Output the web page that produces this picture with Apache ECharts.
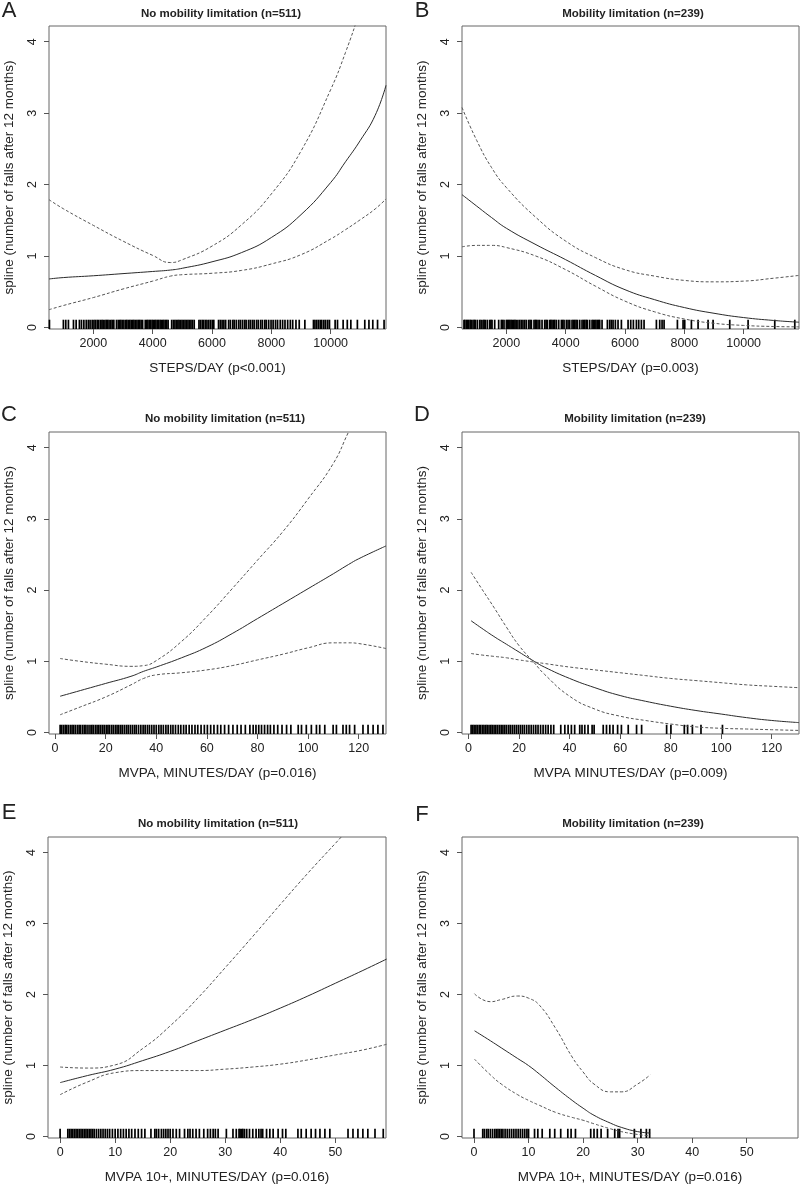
<!DOCTYPE html>
<html>
<head>
<meta charset="utf-8">
<title>Spline: falls after 12 months</title>
<script src="https://cdn.jsdelivr.net/npm/echarts@6/dist/echarts.min.js"></script>
<style>
html,body{margin:0;padding:0;background:#fff;}
#main{width:800px;height:1188px;}
</style>
</head>
<body>
<div id="main"></div>
<script>
// ---------------- data ----------------
var yTicks = [0, 1, 2, 3, 4];
var stepTicks = [2000, 4000, 6000, 8000, 10000];
var mvpaTicks = [0, 20, 40, 60, 80, 100, 120];
var mvpa10Ticks = [0, 10, 20, 30, 40, 50];

var titleNo = 'No mobility limitation (n=511)';
var titleLim = 'Mobility limitation (n=239)';
var yName = 'spline (number of falls after 12 months)';

// A: steps/day, no limitation
var aX   = [505, 1000, 2000, 3000, 4000, 4600, 5000, 6000, 7000, 8000, 9000, 10000, 10500, 11000, 11500, 11865];
var aFit = [0.68, 0.70, 0.725, 0.755, 0.785, 0.805, 0.83, 0.92, 1.05, 1.26, 1.58, 2.03, 2.32, 2.62, 2.97, 3.39];
var aUp  = [1.79, 1.66, 1.43, 1.21, 1.01, 0.91, 0.95, 1.14, 1.44, 1.87, 2.47, 3.33, 3.85, 4.45, 5.10, 5.60];
var aLo  = [0.25, 0.31, 0.42, 0.54, 0.65, 0.72, 0.74, 0.76, 0.80, 0.89, 1.02, 1.24, 1.37, 1.51, 1.66, 1.80];
var rugA = [520, 990, 1070, 1160, 1330, 1420, 1530, 1600, 1680, 1760, 1830, 1890, 1960, 2020, 2070, 2130, 2180, 2240, 2290, 2330,
  2390, 2440, 2480, 2530, 2590, 2640, 2690, 2780, 2840, 2890, 2930, 2980, 3030, 3090, 3130, 3180, 3230, 3280, 3330, 3370,
  3420, 3470, 3520, 3560, 3610, 3660, 3750, 3800, 3840, 3890, 3930, 3980, 4020, 4070, 4110, 4160, 4200, 4250, 4290, 4340,
  4380, 4430, 4470, 4520, 4640, 4700, 4750, 4800, 4850, 4890, 4940, 4990, 5040, 5090, 5140, 5190, 5240, 5290, 5340, 5400,
  5560, 5610, 5670, 5720, 5780, 5830, 5890, 5950, 6010, 6060, 6220, 6280, 6340, 6400, 6460, 6560, 6620, 6700, 6750, 6820,
  6900, 6960, 7030, 7100, 7150, 7230, 7290, 7360, 7420, 7500, 7560, 7640, 7700, 7780, 7830, 7910, 7990, 8060, 8140, 8210,
  8300, 8380, 8460, 8550, 8640, 8720, 8830, 8940, 9130, 9420, 9470, 9530, 9590, 9650, 9700, 9770, 9830, 9900, 9960, 10150,
  10230, 10420, 10560, 10680, 10900, 11150, 11290, 11420, 11580, 11800];

// B: steps/day, mobility limitation
var bX   = [505, 1000, 1500, 2000, 3000, 4000, 5000, 6000, 7000, 8000, 9000, 10000, 11000, 11865];
var bFit = [1.86, 1.70, 1.54, 1.39, 1.16, 0.95, 0.73, 0.53, 0.39, 0.28, 0.20, 0.14, 0.10, 0.075];
var bUp  = [3.08, 2.62, 2.24, 1.96, 1.54, 1.21, 0.98, 0.81, 0.72, 0.66, 0.64, 0.65, 0.69, 0.73];
var bLo  = [1.13, 1.15, 1.15, 1.12, 1.00, 0.81, 0.58, 0.37, 0.22, 0.12, 0.06, 0.03, 0.015, 0.01];
var rugB = [572, 600, 651, 690, 730, 780, 820, 876, 920, 955, 1022, 1101, 1150, 1213, 1250, 1292, 1359, 1438, 1480, 1517,
  1607, 1741, 1831, 1870, 1921, 2000, 2040, 2080, 2120, 2160, 2200, 2250, 2290, 2330, 2390, 2450, 2506, 2560, 2618, 2674,
  2753, 2800, 2843, 2933, 2980, 3012, 3068, 3124, 3203, 3293, 3340, 3383, 3461, 3500, 3540, 3590, 3630, 3686, 3765, 3855,
  3900, 3945, 4023, 4080, 4136, 4214, 4260, 4304, 4350, 4394, 4473, 4551, 4600, 4641, 4690, 4731, 4810, 4889, 4930, 4978,
  5020, 5068, 5110, 5147, 5226, 5406, 5484, 5540, 5597, 5675, 5765, 5878, 6103, 6193, 6282, 6384, 6462, 6552, 6642, 7058,
  7170, 7249, 7317, 7766, 7957, 8013, 8238, 8463, 8800, 8969, 9531, 10149, 11048, 11723];

// C: MVPA minutes/day, no limitation
var cX   = [2, 10, 20, 30, 35, 40, 50, 60, 70, 80, 90, 100, 110, 116, 120, 130.8];
var cFit = [0.51, 0.59, 0.69, 0.79, 0.86, 0.92, 1.05, 1.20, 1.39, 1.60, 1.81, 2.02, 2.23, 2.36, 2.44, 2.62];
var cUp  = [1.04, 1.00, 0.96, 0.93, 0.94, 1.01, 1.28, 1.63, 2.02, 2.42, 2.82, 3.28, 3.78, 4.22, 4.50, 5.30];
var cLo  = [0.25, 0.36, 0.50, 0.67, 0.76, 0.81, 0.84, 0.88, 0.94, 1.02, 1.10, 1.19, 1.26, 1.26, 1.25, 1.18];
var rugC = [2, 2.6, 3.3, 4, 4.5, 5.2, 6, 6.7, 7.3, 8, 8.8, 9.5, 10.1, 10.9, 11.6, 12.2, 13, 13.8, 14.5, 15.1,
  15.9, 16.6, 17.3, 18, 18.7, 19.4, 20.2, 20.9, 21.5, 22.3, 23, 23.8, 24.5, 25.2, 26, 26.7, 27.5, 28.3, 29, 29.8,
  30.6, 31.4, 32.1, 33, 33.9, 34.8, 35.6, 36.5, 37.3, 38.2, 39.1, 40, 41, 41.9, 42.8, 43.8, 44.7, 45.7, 46.6, 47.6,
  48.7, 49.7, 50.8, 51.8, 53, 54.1, 55.3, 56.4, 57.7, 59, 60.2, 61.5, 62.8, 64.2, 65.5, 67, 68.6, 70.3, 72, 73.5,
  75.2, 77, 78.3, 79.4, 80.5, 81.6, 82.8, 84, 85.1, 86.5, 88, 89.7, 91.5, 93.2, 96.1, 97.4, 99.3, 101.3, 103.3, 104.6,
  106.6, 109.9, 111.2, 113.8, 115.1, 116.4, 118.4, 121.7, 123.7, 125.7, 127.6, 129.6];

// D: MVPA minutes/day, mobility limitation
var dX   = [1, 5, 10, 15, 20, 26, 30, 40, 50, 60, 70, 80, 90, 100, 110, 120, 130.8];
var dFit = [1.57, 1.47, 1.35, 1.24, 1.13, 1.00, 0.92, 0.76, 0.63, 0.52, 0.44, 0.37, 0.31, 0.26, 0.21, 0.17, 0.14];
var dUp  = [2.25, 2.03, 1.76, 1.48, 1.22, 0.98, 0.82, 0.51, 0.33, 0.23, 0.17, 0.12, 0.08, 0.06, 0.05, 0.04, 0.03];
var dLo  = [1.11, 1.09, 1.07, 1.05, 1.02, 0.99, 0.97, 0.92, 0.88, 0.84, 0.80, 0.76, 0.73, 0.70, 0.67, 0.65, 0.63];
var rugD = [1, 1.6, 2.2, 2.9, 3.5, 4.2, 4.8, 5.5, 6.1, 6.8, 7.4, 8.1, 8.8, 9.4, 10.1, 10.8, 11.5, 12.2, 12.9, 13.6,
  14.3, 15, 15.8, 16.5, 17.3, 18.1, 18.9, 19.7, 20.5, 21.3, 22.1, 23, 23.9, 24.8, 25.7, 26.6, 27.5, 28.5, 29.5, 30.5,
  31.5, 32.6, 33.7, 36.5, 38.1, 39.4, 40.7, 42.0, 44.0, 44.9, 46.0, 47.3, 48.9, 49.7, 53.3, 54.6, 55.9, 57.2, 59.0, 60.5,
  63.2, 66.5, 68.5, 78.4, 80.1, 85.4, 86.7, 88.6, 92.0, 100.5];

// E: MVPA 10+ minutes/day, no limitation
var eX   = [0, 5, 10, 15, 20, 25, 30, 35, 40, 45, 50, 55, 59.3];
var eFit = [0.76, 0.86, 0.95, 1.07, 1.20, 1.35, 1.50, 1.65, 1.81, 1.98, 2.16, 2.34, 2.50];
var eUp  = [0.98, 0.965, 1.01, 1.24, 1.56, 1.95, 2.38, 2.82, 3.27, 3.71, 4.13, 4.55, 4.90];
var eLo  = [0.59, 0.77, 0.90, 0.93, 0.93, 0.93, 0.95, 0.98, 1.02, 1.08, 1.15, 1.22, 1.30];
var rugE = [0, 1.4, 1.7, 2.0, 2.3, 2.6, 2.9, 3.2, 3.5, 3.8, 4.1, 4.4, 4.7, 5.0, 5.3, 5.6, 5.9, 6.2, 6.6, 7.0,
  7.4, 7.8, 8.2, 8.6, 9.0, 9.5, 10.0, 10.5, 11.0, 11.5, 12.0, 12.5, 13.0, 13.6, 14.2, 14.8, 15.4, 16.5, 17.2, 17.5,
  17.9, 18.4, 18.8, 19.2, 19.6, 20, 20.5, 21.1, 21.7, 22.6, 23.2, 23.6, 24.1, 24.7, 25.3, 26.1, 26.8, 27.3, 27.8, 28.2,
  28.7, 30.2, 31.4, 32, 32.5, 32.7, 33, 33.2, 33.5, 33.9, 34.4, 35, 35.6, 36.1, 36.5, 36.8, 37.5, 38.1, 38.7, 39.6,
  40.4, 41, 43.2, 43.8, 44.7, 45.6, 46.4, 47.2, 48.1, 49.0, 52.3, 53.2, 54.1, 55.0, 55.9, 57.2, 58.7];

// F: MVPA 10+ minutes/day, mobility limitation
var fX   = [0.1, 3, 5, 8, 10, 12, 15, 18, 20, 22, 25, 27, 30, 32.3];
var fFit = [1.49, 1.35, 1.25, 1.10, 1.00, 0.88, 0.69, 0.51, 0.40, 0.30, 0.19, 0.13, 0.07, 0.05];
var fUp  = [2.01, 1.90, 1.93, 1.98, 1.95, 1.85, 1.52, 1.12, 0.91, 0.74, 0.63, 0.63, 0.74, 0.87];
var fLo  = [1.09, 0.87, 0.74, 0.59, 0.51, 0.44, 0.34, 0.27, 0.23, 0.18, 0.11, 0.07, 0.03, 0.01];
var rugF = [0, 1.6, 1.9, 2.3, 2.6, 3.0, 3.4, 3.8, 4.1, 4.4, 4.7, 5.0, 5.3, 5.7, 6.1, 6.5, 6.9, 7.3, 7.7, 8.1,
  8.5, 8.9, 9.3, 9.7, 10.0, 11.1, 11.7, 12.5, 13.9, 14.8, 15.9, 17.2, 17.8, 18.6, 21.4, 22.0, 22.6, 23.3, 24.5, 25.8,
  26.4, 26.7, 29.4, 30.6, 31.6, 32.2];

// ---------------- layout & styling ----------------
var FONT = '"Liberation Sans", Arial, sans-serif';
var Y_MIN = -0.02, Y_MAX = 4.22, RUG_TOP = 0.11;

var panels = [
  {letter:'A', title:titleNo,  x:aX, fit:aFit, up:aUp, lo:aLo, rug:rugA, xMin:505,  xMax:11865, ticks:stepTicks,   xName:'STEPS/DAY (p<0.001)'},
  {letter:'B', title:titleLim, x:bX, fit:bFit, up:bUp, lo:bLo, rug:rugB, xMin:505,  xMax:11865, ticks:stepTicks,   xName:'STEPS/DAY (p=0.003)'},
  {letter:'C', title:titleNo,  x:cX, fit:cFit, up:cUp, lo:cLo, rug:rugC, xMin:-2.4, xMax:130.8, ticks:mvpaTicks,   xName:'MVPA, MINUTES/DAY (p=0.016)'},
  {letter:'D', title:titleLim, x:dX, fit:dFit, up:dUp, lo:dLo, rug:rugD, xMin:-2.6, xMax:130.8, ticks:mvpaTicks,   xName:'MVPA MINUTES/DAY (p=0.009)'},
  {letter:'E', title:titleNo,  x:eX, fit:eFit, up:eUp, lo:eLo, rug:rugE, xMin:-2.2, xMax:59.2,  ticks:mvpa10Ticks, xName:'MVPA 10+, MINUTES/DAY (p=0.016)'},
  {letter:'F', title:titleLim, x:fX, fit:fFit, up:fUp, lo:fLo, rug:rugF, xMin:-2.2, xMax:59.4,  ticks:mvpa10Ticks, xName:'MVPA 10+, MINUTES/DAY (p=0.016)'}
];

// plot boxes in px, plus where panel letter and title sit
var boxes = [
  {left:49,  top:26,  width:337, height:303, titleX:221, titleY:14,  letterY:11},
  {left:462, top:26,  width:337, height:303, titleX:633, titleY:14,  letterY:11},
  {left:49,  top:432, width:337, height:302, titleX:225, titleY:419, letterY:415},
  {left:462, top:432, width:337, height:302, titleX:635, titleY:419, letterY:415},
  {left:48,  top:837, width:338, height:301, titleX:218, titleY:824, letterY:813},
  {left:462, top:837, width:336, height:301, titleX:633, titleY:824, letterY:815}
];

function pairs(xs, ys){
  var out = [];
  for(var i=0;i<xs.length;i++) out.push([xs[i], ys[i]]);
  return out;
}

var grid = [], xAxis = [], yAxis = [], series = [], graphic = [];

panels.forEach(function(p, i){
  var b = boxes[i];
  grid.push({left:b.left, top:b.top, width:b.width, height:b.height,
    show:true, borderColor:'#666', borderWidth:1, backgroundColor:'transparent'});

  xAxis.push({
    type:'value', gridIndex:i, min:p.xMin, max:p.xMax,
    axisLine:{show:false, onZero:false}, splitLine:{show:false},
    axisTick:{show:true, customValues:p.ticks, length:5, lineStyle:{color:'#555', width:1}},
    axisLabel:{customValues:p.ticks, margin:8, color:'#222', fontFamily:FONT, fontSize:12.5,
      formatter:function(v){ return String(v); }},
    name:p.xName, nameLocation:'middle', nameGap:32,
    nameTextStyle:{color:'#222', fontFamily:FONT, fontSize:13.5}
  });

  yAxis.push({
    type:'value', gridIndex:i, min:Y_MIN, max:Y_MAX,
    axisLine:{show:false, onZero:false}, splitLine:{show:false},
    axisTick:{show:true, customValues:yTicks, length:5, lineStyle:{color:'#555', width:1}},
    axisLabel:{customValues:yTicks, rotate:90, margin:10, color:'#222', fontFamily:FONT, fontSize:12.5},
    name:yName, nameLocation:'middle', nameRotate:90, nameGap:33,
    nameTextStyle:{color:'#222', fontFamily:FONT, fontSize:13.5}
  });

  // fitted spline + confidence band
  series.push({type:'line', xAxisIndex:i, yAxisIndex:i, data:pairs(p.x, p.fit), smooth:0.5,
    symbol:'none', clip:true, lineStyle:{color:'#2a2a2a', width:1}});
  series.push({type:'line', xAxisIndex:i, yAxisIndex:i, data:pairs(p.x, p.up), smooth:0.5,
    symbol:'none', clip:true, lineStyle:{color:'#555', width:1, type:[3, 2]}});
  series.push({type:'line', xAxisIndex:i, yAxisIndex:i, data:pairs(p.x, p.lo), smooth:0.5,
    symbol:'none', clip:true, lineStyle:{color:'#555', width:1, type:[3, 2]}});

  // rug of observations along the bottom
  series.push({type:'custom', xAxisIndex:i, yAxisIndex:i, silent:true,
    data:p.rug.map(function(v){ return [v, 0]; }),
    encode:{x:0, y:1},
    renderItem:function(params, api){
      var a = api.coord([api.value(0), Y_MIN]);
      var c = api.coord([api.value(0), RUG_TOP]);
      return {type:'line', shape:{x1:a[0], y1:a[1], x2:c[0], y2:c[1]},
        style:{stroke:'#000', lineWidth:1.7}};
    }
  });

  graphic.push({type:'text', x:b.titleX, y:b.titleY,
    style:{text:p.title, fill:'#222', font:'bold 11.5px ' + FONT, textAlign:'center', textVerticalAlign:'middle'}});
  graphic.push({type:'text', x:(i % 2 === 0 ? 9 : 422), y:b.letterY,
    style:{text:p.letter, fill:'#222', font:'22px ' + FONT, textAlign:'center', textVerticalAlign:'middle'}});
});

var myChart = echarts.init(document.getElementById('main'), null, {renderer:'canvas'});
myChart.setOption({
  animation:false,
  backgroundColor:'#fff',
  grid:grid, xAxis:xAxis, yAxis:yAxis, series:series, graphic:graphic
});
</script>
</body>
</html>
